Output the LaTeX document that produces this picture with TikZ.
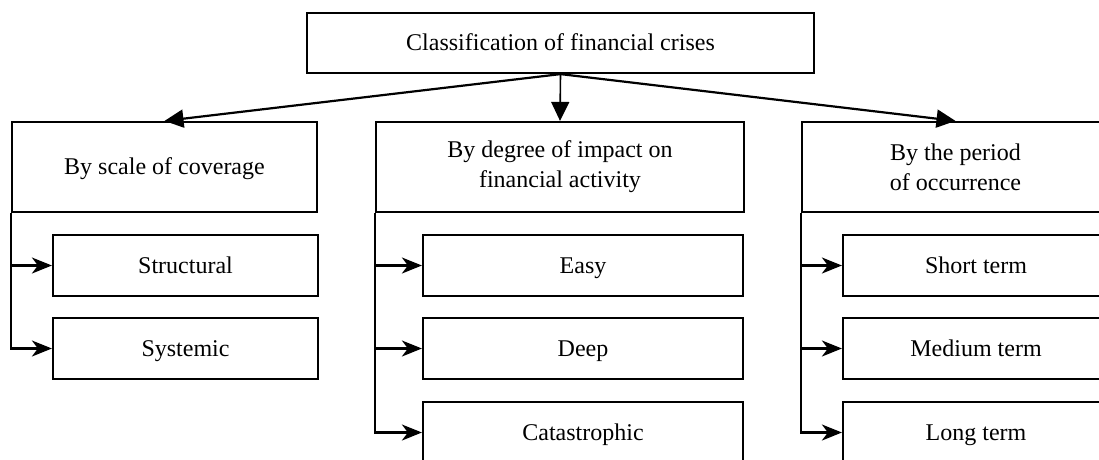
\documentclass[tikz,border=0pt]{standalone}
\usepackage{fontspec}
\setmainfont{Liberation Serif}
\usetikzlibrary{arrows.meta}
\begin{document}
\begin{tikzpicture}[x=1pt,y=-1pt,
  box/.style={draw, line width=2.2pt, rectangle, inner sep=0pt, align=center,
    font=\fontsize{24}{30}\selectfont},
  oneline/.style={text height=19pt, text depth=4pt},
  topbox/.style={box, oneline, minimum width=507pt, minimum height=60pt},
  catbox/.style={box, minimum height=90pt},
  subbox/.style={box, oneline, minimum height=61pt},
  toparrow/.style={line width=2.2pt, -{Triangle[length=19pt,width=18pt]}},
  subarrow/.style={line width=2.2pt, -{Stealth[length=20pt,width=16pt,inset=6pt]}}]
\useasboundingbox (0,0) rectangle (1099,459);
\clip (0,0) rectangle (1099,459);

\node[topbox] (top) at (560.5,43) {Classification of financial crises};

\node[catbox, oneline, minimum width=305pt] (L) at (164.5,167) {By scale of coverage};
\node[catbox, minimum width=368pt] (M) at (560,167) {By degree of impact on\\financial activity};
\node[catbox, minimum width=307pt] (R) at (955.5,167) {By the period\\of occurrence};

\node[subbox, minimum width=265pt] (l1) at (185.5,265.5) {Structural};
\node[subbox, minimum width=265pt] (l2) at (185.5,348.5) {Systemic};

\node[subbox, minimum width=320pt] (m1) at (583,265.5) {Easy};
\node[subbox, minimum width=320pt] (m2) at (583,348.5) {Deep};
\node[subbox, minimum width=320pt] (m3) at (583,432.5) {Catastrophic};

\node[subbox, minimum width=266pt] (r1) at (976,265.5) {Short term};
\node[subbox, minimum width=266pt] (r2) at (976,348.5) {Medium term};
\node[subbox, minimum width=266pt] (r3) at (976,432.5) {Long term};

\draw[toparrow] (top.south) -- (L.north);
\draw[toparrow, line width=1.6pt] (top.south) -- (M.north);
\draw[toparrow] (top.south) -- (R.north);

\draw[subarrow] (L.south west) |- (l1.west);
\draw[subarrow] (L.south west) |- (l2.west);
\draw[subarrow] (M.south west) |- (m1.west);
\draw[subarrow] (M.south west) |- (m2.west);
\draw[subarrow] (M.south west) |- (m3.west);
\draw[subarrow] (R.south west) |- (r1.west);
\draw[subarrow] (R.south west) |- (r2.west);
\draw[subarrow] (R.south west) |- (r3.west);
\end{tikzpicture}
\end{document}
